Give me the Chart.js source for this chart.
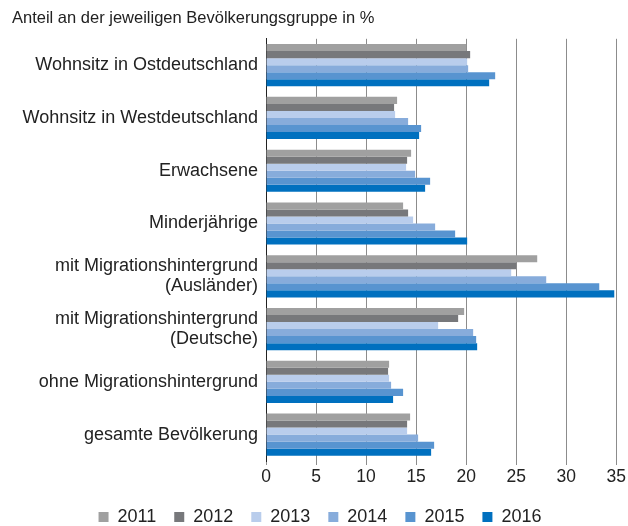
<!DOCTYPE html>
<html>
<head>
<meta charset="utf-8">
<script src="https://cdn.jsdelivr.net/npm/chart.js@4"></script>
<style>
  html, body { margin: 0; padding: 0; background: #fff; }
  #wrap { width: 628px; height: 526px; }
</style>
</head>
<body>
<div id="wrap"><canvas id="grafico"></canvas></div>
<script>
// Kategorien (von oben nach unten)
const kategorien = [
    'Wohnsitz in Ostdeutschland',
    'Wohnsitz in Westdeutschland',
    'Erwachsene',
    'Minderjährige',
    ['mit Migrationshintergrund', '(Ausländer)'],
    ['mit Migrationshintergrund', '(Deutsche)'],
    'ohne Migrationshintergrund',
    'gesamte Bevölkerung'
];

const jahre = ['2011', '2012', '2013', '2014', '2015', '2016'];

// Anteile in % je Jahr
const werte2011 = [20.0, 13.1, 14.5, 13.7, 27.1, 19.8, 12.3, 14.4];
const werte2012 = [20.4, 12.8, 14.1, 14.2, 25.0, 19.2, 12.2, 14.1];
const werte2013 = [20.1, 12.9, 14.0, 14.7, 24.5, 17.2, 12.3, 14.1];
const werte2014 = [20.2, 14.2, 14.9, 16.9, 28.0, 20.7, 12.5, 15.2];
const werte2015 = [22.9, 15.5, 16.4, 18.9, 33.3, 21.0, 13.7, 16.8];
const werte2016 = [22.3, 15.3, 15.9, 20.1, 34.8, 21.1, 12.7, 16.5];

const xTicks = [0, 5, 10, 15, 20, 25, 30, 35];

const farben = ['#a0a0a0', '#77787b', '#b9cdec', '#87acdb', '#5894d0', '#0070bf'];
const reihen = [werte2011, werte2012, werte2013, werte2014, werte2015, werte2016];

const schrift = "'Liberation Sans', Arial, Helvetica, sans-serif";

const ctx = document.getElementById('grafico').getContext('2d');

new Chart(ctx, {
    type: 'bar',
    data: {
        labels: kategorien,
        datasets: jahre.map((jahr, i) => ({
            label: jahr,
            data: reihen[i],
            backgroundColor: farben[i],
            borderWidth: 0,
            categoryPercentage: 0.8,
            barPercentage: 1.0
        }))
    },
    options: {
        indexAxis: 'y',
        responsive: true,
        maintainAspectRatio: false,
        animation: false,
        layout: {
            padding: { left: 12, right: 0, top: 0, bottom: 0 }
        },
        plugins: {
            title: {
                display: true,
                text: 'Anteil an der jeweiligen Bevölkerungsgruppe in %',
                align: 'start',
                color: '#222',
                font: { family: schrift, size: 16.5, weight: 'normal' },
                padding: { top: 9, bottom: 10 }
            },
            legend: {
                position: 'bottom',
                maxHeight: 36,
                labels: {
                    color: '#222',
                    boxWidth: 10,
                    boxHeight: 10,
                    padding: 18,
                    font: { family: schrift, size: 18 }
                }
            },
            tooltip: { enabled: false }
        },
        scales: {
            x: {
                min: 0,
                max: 35,
                afterBuildTicks: function (scale) {
                    scale.ticks = xTicks.map(v => ({ value: v }));
                },
                grid: {
                    color: '#8c8c8c',
                    lineWidth: 1,
                    drawTicks: true,
                    tickLength: 4
                },
                border: { display: false },
                ticks: {
                    color: '#222',
                    padding: 2,
                    font: { family: schrift, size: 17.5 }
                }
            },
            y: {
                afterFit: function (scale) {
                    scale.width = 254;
                },
                grid: { display: false, drawTicks: false },
                border: { display: true, color: '#222', width: 1 },
                ticks: {
                    color: '#222',
                    padding: 8,
                    font: { family: schrift, size: 18, lineHeight: 1.1 }
                }
            }
        }
    }
});
</script>
</body>
</html>
